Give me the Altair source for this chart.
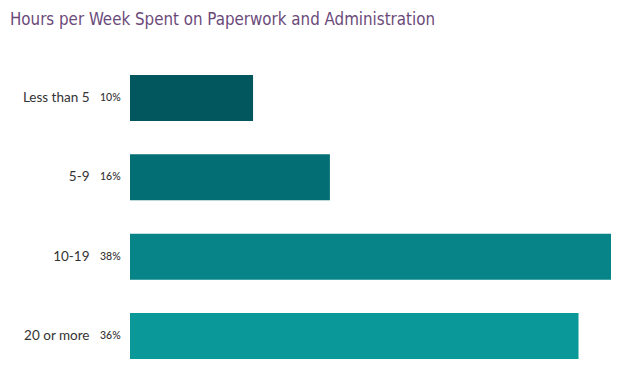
import altair as alt
import pandas as pd

title_text = "Hours per Week Spent on Paperwork and Administration"
categories = ["Less than 5", "5-9", "10-19", "20 or more"]
values = [9.85, 16.0, 38.5, 35.9]
labels = ["10%", "16%", "38%", "36%"]
colors = ["#02575f", "#036e74", "#068487", "#0a9898"]

df = pd.DataFrame({"cat": categories, "val": values, "lab": labels, "col": colors})

FONT = "Lato"

y = alt.Y("cat:N", sort=categories, title=None,
          scale=alt.Scale(paddingInner=0.42, paddingOuter=0),
          axis=alt.Axis(domain=False, ticks=False, labelPadding=41,
                        labelFontSize=13.5, labelColor="#333333", labelFont=FONT))

bars = alt.Chart(df).mark_bar().encode(
    x=alt.X("val:Q", scale=alt.Scale(domain=[0, 38.5], nice=False, zero=True), axis=None),
    y=y,
    color=alt.Color("col:N", scale=None),
)

pct = alt.Chart(df).mark_text(align="left", baseline="middle", fontSize=10.5,
                              fontWeight=500, font=FONT, color="#333333").encode(
    x=alt.value(-30),
    y=alt.Y("cat:N", sort=categories),
    text="lab:N",
)

title = alt.Chart(pd.DataFrame({"t": [title_text]})).mark_text(
    align="left", baseline="alphabetic", fontSize=16.8,
    font="DejaVu Sans Condensed, Roboto", color="#6b4a7a",
).encode(x=alt.value(-120), y=alt.value(-50), text="t:N")

chart = alt.layer(bars, pct, title).properties(
    width=481, height=284,
    autosize=alt.AutoSizeParams(type="none"),
    padding={"left": 122, "top": 67, "right": 0, "bottom": 0},
).configure_view(stroke=None)

chart.save("out.html", embed_options={"renderer": "svg", "actions": False})
